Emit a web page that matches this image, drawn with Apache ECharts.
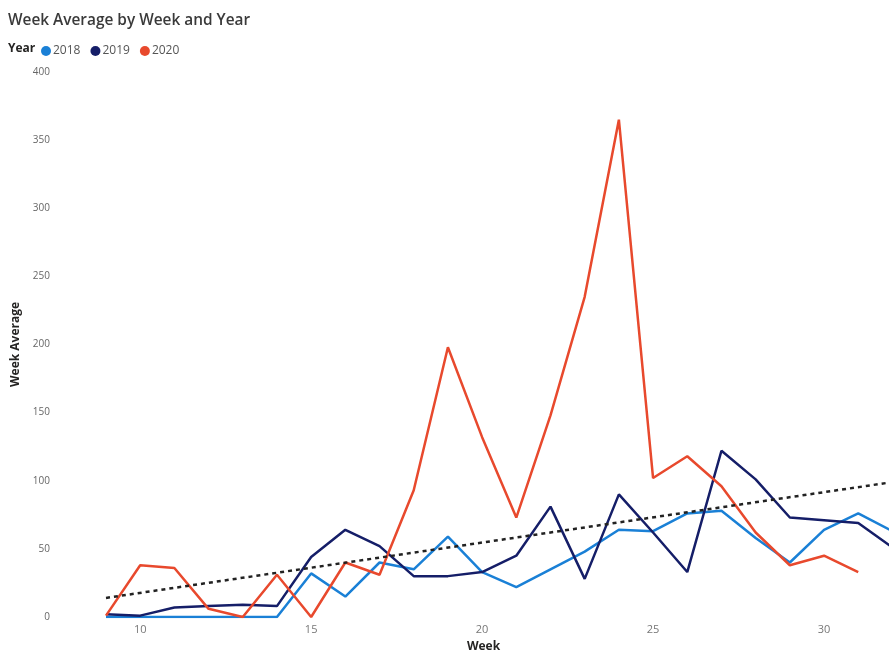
<!DOCTYPE html>
<html>
<head>
<meta charset="utf-8">
<script src="https://cdn.jsdelivr.net/npm/echarts@6/dist/echarts.min.js"></script>
<style>
html,body{margin:0;padding:0;background:#fff;}
#chart{width:889px;height:652px;}
</style>
</head>
<body>
<div id="chart"></div>
<script>
// Data
const weeks = [9,10,11,12,13,14,15,16,17,18,19,20,21,22,23,24,25,26,27,28,29,30,31,32];
const y2018 = [0,0,0,0,0,0,32,15,40,35,59,33,22,35,48,64,63,76,78,58,40,64,76,63];
const y2019 = [2,1,7,8,9,8,44,64,52,30,30,33,45,81,28,90,62,33,122,101,73,71,69,51];
const y2020 = [1,38,36,6,0,31,0,40,31,93,198,132,73,148,235,365,102,118,96,62,38,45,33,null];
const trendWeeks = [9,32];
const trendValues = [14,99];
const xTickLabels = [10,15,20,25,30];
const yearNames = ['2018','2019','2020'];

const toPairs = (xs, ys) => xs.map((x,i) => ys[i] == null ? null : [x, ys[i]]).filter(p => p);
const colors = ['#1A80D6','#151E68','#E8492D'];
const fontFam = '"Open Sans", "DejaVu Sans", sans-serif';

const chart = echarts.init(document.getElementById('chart'));
chart.setOption({
  animation: false,
  backgroundColor: '#ffffff',
  title: [{
    text: 'Week Average by Week and Year',
    left: 3, top: 8,
    textStyle: {fontFamily: fontFam, fontSize: 15.4, fontWeight: 600, color: '#3a3a3a'}
  },{
    text: 'Year',
    left: 3, top: 38,
    textStyle: {fontFamily: fontFam, fontSize: 12, fontWeight: 700, color: '#252423'}
  }],
  legend: {
    left: 36, top: 40,
    icon: 'circle',
    itemWidth: 10, itemHeight: 10, itemGap: 10,
    textStyle: {fontFamily: fontFam, fontSize: 12, color: '#555', padding: [0,0,0,-3]},
    data: yearNames
  },
  grid: {left: 106, right: 0, top: 72, bottom: 35, containLabel: false, outerBoundsMode: 'none'},
  xAxis: {
    type: 'value',
    min: 9, max: 31.9,
    name: 'Week',
    nameLocation: 'middle',
    nameGap: 24,
    nameTextStyle: {fontFamily: fontFam, fontSize: 12, fontWeight: 700, color: '#252423', padding: [0, 28, 0, 0]},
    axisLine: {show: false},
    axisTick: {show: false},
    splitLine: {show: false},
    axisLabel: {
      customValues: xTickLabels,
      fontFamily: fontFam, fontSize: 11, color: '#777', margin: 7
    }
  },
  yAxis: {
    type: 'value',
    min: 0, max: 400, interval: 50,
    name: 'Week Average',
    nameLocation: 'middle',
    nameGap: 80,
    nameTextStyle: {fontFamily: fontFam, fontSize: 12, fontWeight: 700, color: '#252423'},
    axisLine: {show: false},
    axisTick: {show: false},
    splitLine: {show: false},
    axisLabel: {fontFamily: fontFam, fontSize: 10, color: '#666', margin: 56}
  },
  series: [
    {name: yearNames[0], type: 'line', data: toPairs(weeks, y2018), symbol: 'none', lineStyle: {width: 2.5, color: colors[0]}, itemStyle: {color: colors[0]}, z: 3},
    {name: yearNames[1], type: 'line', data: toPairs(weeks, y2019), symbol: 'none', lineStyle: {width: 2.5, color: colors[1]}, itemStyle: {color: colors[1]}, z: 4},
    {name: yearNames[2], type: 'line', data: toPairs(weeks, y2020), symbol: 'none', lineStyle: {width: 2.5, color: colors[2]}, itemStyle: {color: colors[2]}, z: 5},
    {name: 'Trend', type: 'line', data: toPairs(trendWeeks, trendValues), symbol: 'none', silent: true,
     lineStyle: {width: 2.5, color: '#222', type: [4, 4]}, z: 6}
  ]
});
</script>
</body>
</html>
